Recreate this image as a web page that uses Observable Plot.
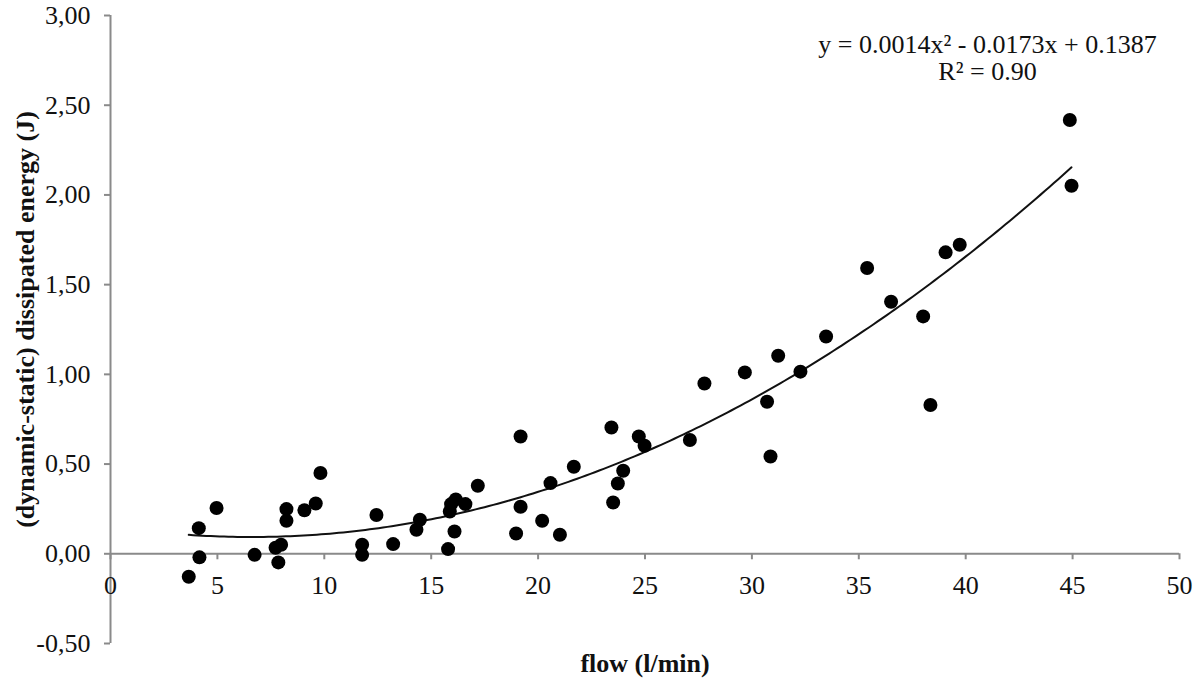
<!DOCTYPE html>
<html>
<head>
<meta charset="utf-8">
<script src="https://cdn.jsdelivr.net/npm/d3@7"></script>
<script src="https://cdn.jsdelivr.net/npm/@observablehq/plot@0.6"></script>
<style>
  html, body { margin: 0; padding: 0; background: #fff; }
</style>
</head>
<body>
<div id="chart"></div>
<script>
// ---- data ----
const flow = [
  3.66, 4.13, 4.16, 4.96, 6.74, 7.72, 7.98, 7.85, 8.23, 8.23, 9.07, 9.60, 9.82,
  11.77, 11.77, 12.44, 13.22, 14.31, 14.47, 15.79, 15.87, 15.93, 16.15, 16.09, 16.60, 17.18,
  18.97, 19.18, 19.18, 20.19, 20.58, 21.02, 21.67,
  23.43, 23.51, 23.73, 23.98, 24.71, 24.98, 27.10, 27.78, 29.67, 30.71, 30.87, 31.23, 32.27, 33.47,
  35.39, 36.51, 38.01, 38.35, 39.06, 39.72, 44.87, 44.95
];
const energy = [
  -0.128, 0.143, -0.020, 0.255, -0.006, 0.034, 0.050, -0.048, 0.249, 0.184, 0.243, 0.280, 0.450,
  0.050, -0.006, 0.216, 0.054, 0.134, 0.190, 0.026, 0.236, 0.277, 0.303, 0.124, 0.277, 0.379,
  0.113, 0.654, 0.262, 0.184, 0.394, 0.106, 0.485,
  0.704, 0.286, 0.392, 0.463, 0.654, 0.602, 0.634, 0.949, 1.011, 0.847, 0.542, 1.104, 1.015, 1.211,
  1.593, 1.405, 1.323, 0.829, 1.680, 1.722, 2.418, 2.051
];
const xTicks = [0, 5, 10, 15, 20, 25, 30, 35, 40, 45, 50];
const yTicks = [-0.5, 0, 0.5, 1, 1.5, 2, 2.5, 3];
const xDomain = [0, 50];
const yDomain = [-0.5, 3];
const equationText = "y = 0.0014x² - 0.0173x + 0.1387";
const r2Text = "R² = 0.90";
const xLabel = "flow (l/min)";
const yLabel = "(dynamic-static) dissipated energy (J)";

// ---- build table ----
const points = flow.map((x, i) => ({x, y: energy[i]}));

// quadratic least-squares trend line fitted to the points (as the original trendline)
function polyfit2(xs, ys) {
  const S = [0, 0, 0, 0, 0], T = [0, 0, 0];
  xs.forEach((x, i) => {
    for (let k = 0; k < 5; k++) S[k] += x ** k;
    for (let k = 0; k < 3; k++) T[k] += ys[i] * x ** k;
  });
  const A = [[S[0], S[1], S[2], T[0]], [S[1], S[2], S[3], T[1]], [S[2], S[3], S[4], T[2]]];
  for (let c = 0; c < 3; c++) {
    for (let r = c + 1; r < 3; r++) {
      const f = A[r][c] / A[c][c];
      for (let k = c; k < 4; k++) A[r][k] -= f * A[c][k];
    }
  }
  const b = [0, 0, 0];
  for (let r = 2; r >= 0; r--) {
    let s = A[r][3];
    for (let k = r + 1; k < 3; k++) s -= A[r][k] * b[k];
    b[r] = s / A[r][r];
  }
  return b;
}
const coef = polyfit2(flow, energy);
const [xmin, xmax] = d3.extent(flow);
const trend = d3.range(0, 201).map(i => {
  const x = xmin + (xmax - xmin) * i / 200;
  return {x, y: coef[0] + coef[1] * x + coef[2] * x * x};
});

// ---- layout ----
const W = 1200, H = 685, mt = 15, mb = 42, ml = 110, mr = 21;
const axisShift = -((0 - yDomain[0]) / (yDomain[1] - yDomain[0])) * (H - mt - mb);
const gray = "#8a8a8a";
const ink = "#111";
const font = "'Liberation Serif', 'Times New Roman', serif";
const fs = 26;
const fmtY = d => d.toFixed(2).replace(".", ",");

const chart = Plot.plot({
  width: W,
  height: H,
  marginTop: mt,
  marginBottom: mb,
  marginLeft: ml,
  marginRight: mr,
  style: {fontFamily: font, background: "#fff", color: ink},
  x: {domain: xDomain},
  y: {domain: yDomain},
  marks: [
    Plot.ruleX([0], {stroke: gray, strokeWidth: 2}),
    Plot.ruleY([0], {stroke: gray, strokeWidth: 2}),
    Plot.axisY({ticks: yTicks, tickFormat: fmtY, tickSize: 6, tickPadding: 14,
      fontSize: fs, stroke: gray, strokeWidth: 2, fill: ink, label: null}),
    Plot.axisX({ticks: xTicks, tickFormat: d => String(d), tickSize: 6, tickPadding: 16,
      fontSize: fs, stroke: gray, strokeWidth: 2, fill: ink, label: null, dy: axisShift}),
    Plot.line(trend, {x: "x", y: "y", stroke: "#111", strokeWidth: 2}),
    Plot.dot(points, {x: "x", y: "y", r: 7, fill: "#000", stroke: "none"}),
    Plot.text([equationText], {frameAnchor: "top-right", textAnchor: "middle",
      lineAnchor: "middle", dx: -192, dy: 29, fontSize: fs, fill: ink}),
    Plot.text([r2Text], {frameAnchor: "top-right", textAnchor: "middle",
      lineAnchor: "middle", dx: -192, dy: 56, fontSize: fs, fill: ink}),
    Plot.text([xLabel], {frameAnchor: "bottom", textAnchor: "middle", lineAnchor: "middle",
      dy: 20, fontSize: fs, fontWeight: "bold", fill: ink}),
    Plot.text([yLabel], {frameAnchor: "left", textAnchor: "middle", lineAnchor: "middle",
      rotate: -90, dx: -85, dy: -10, fontSize: fs, fontWeight: "bold", fill: ink})
  ]
});
document.getElementById("chart").appendChild(chart);
</script>
</body>
</html>
